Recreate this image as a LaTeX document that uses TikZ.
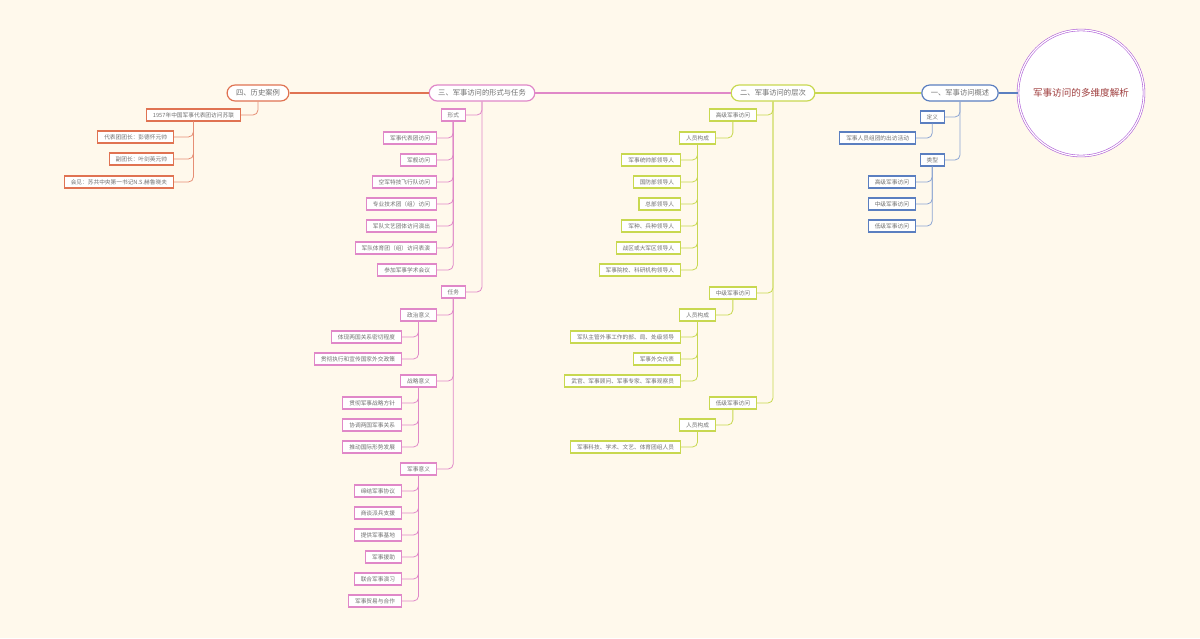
\documentclass[tikz,border=0pt]{standalone}
\usepackage{fontspec}
\setmainfont{Noto Sans CJK SC}
\definecolor{bgc}{HTML}{FFF9EC}
\definecolor{cfour}{HTML}{E07352}
\definecolor{cthree}{HTML}{E088C8}
\definecolor{ctwo}{HTML}{C8D850}
\definecolor{cone}{HTML}{5B7FC0}
\definecolor{crootb}{HTML}{B060D8}
\definecolor{croott}{HTML}{A04040}
\definecolor{txt}{HTML}{707070}

\begin{document}
\begin{tikzpicture}[x=1pt,y=-1pt,
    main/.style={draw,rounded corners=8pt,fill=white,line width=1.2pt,minimum height=16pt,
                 inner xsep=9pt,text=txt,font=\fontsize{7.3}{8}\selectfont},
    box/.style={draw,fill=white,line width=1.1pt,minimum height=12pt,inner xsep=6.5pt,
                inner ysep=1pt,text=txt,font=\fontsize{5.7}{6}\selectfont,anchor=east},
    link/.style={line width=0.8pt,rounded corners=5pt}]
  \fill[bgc] (0,0) rectangle (1200,638);
  \useasboundingbox (0,0) rectangle (1200,638);

  % root and main branches
  \node[circle,draw=crootb,double=white,double distance=1.2pt,line width=0.6pt,fill=white,
        minimum size=126pt,text=croott,font=\fontsize{9.6}{11}\selectfont] (root) at (1081,93) {军事访问的多维度解析};
  \node[main,draw=cone]   (m1) at (960,93) {一、军事访问概述};
  \node[main,draw=ctwo]   (m2) at (773,93) {二、军事访问的层次};
  \node[main,draw=cthree] (m3) at (482,93) {三、军事访问的形式与任务};
  \node[main,draw=cfour]  (m4) at (258,93) {四、历史案例};
  \draw[line width=2.5pt,cone]   (m1) -- (root);
  \draw[line width=2.5pt,ctwo]   (m2) -- (m1);
  \draw[line width=2.5pt,cthree] (m3) -- (m2);
  \draw[line width=2.5pt,cfour]  (m4) -- (m3);

  % one
  \begin{scope}[every node/.style={box,draw=cone}]
    \node (d1) at (945,117) {定义};
    \node (d2) at (945,160) {类型};
    \node (d1a) at (916,138) {军事人员组团的出访活动};
    \node (d2a) at (916,182) {高级军事访问};
    \node (d2b) at (916,204) {中级军事访问};
    \node (d2c) at (916,226) {低级军事访问};
  \end{scope}
  \foreach \p/\c in {m1/d1,m1/d2,d1/d1a,d2/d2a,d2/d2b,d2/d2c}
    \draw[link,cone!70] (\p.south) |- (\c.east);

  % two
  \begin{scope}[every node/.style={box,draw=ctwo}]
    \node (h) at (757,115) {高级军事访问};
    \node (z) at (757,293) {中级军事访问};
    \node (l) at (757,403) {低级军事访问};
    \node (hr) at (716,138) {人员构成};
    \node (zr) at (716,315) {人员构成};
    \node (lr) at (716,425) {人员构成};
    \node (h1) at (681,160) {军事统帅部领导人};
    \node (h2) at (681,182) {国防部领导人};
    \node (h3) at (681,204) {总部领导人};
    \node (h4) at (681,226) {军种、兵种领导人};
    \node (h5) at (681,248) {战区或大军区领导人};
    \node (h6) at (681,270) {军事院校、科研机构领导人};
    \node (z1) at (681,337) {军队主管外事工作的部、局、处级领导};
    \node (z2) at (681,359) {军事外交代表};
    \node (z3) at (681,381) {武官、军事顾问、军事专家、军事观察员};
    \node (l1) at (681,447) {军事科技、学术、文艺、体育团组人员};
  \end{scope}
  \foreach \p/\c in {m2/h,m2/z,m2/l,h/hr,z/zr,l/lr,hr/h1,hr/h2,hr/h3,hr/h4,hr/h5,hr/h6,
                     zr/z1,zr/z2,zr/z3,lr/l1}
    \draw[link,ctwo] (\p.south) |- (\c.east);

  % three
  \begin{scope}[every node/.style={box,draw=cthree}]
    \node (f) at (466,115) {形式};
    \node (r) at (466,292) {任务};
    \node (f1) at (437,138) {军事代表团访问};
    \node (f2) at (437,160) {军舰访问};
    \node (f3) at (437,182) {空军特技飞行队访问};
    \node (f4) at (437,204) {专业技术团（组）访问};
    \node (f5) at (437,226) {军队文艺团体访问演出};
    \node (f6) at (437,248) {军队体育团（组）访问表演};
    \node (f7) at (437,270) {参加军事学术会议};
    \node (rp) at (437,315) {政治意义};
    \node (rs) at (437,381) {战略意义};
    \node (rm) at (437,469) {军事意义};
    \node (p1) at (402,337) {体现两国关系密切程度};
    \node (p2) at (402,359) {贯彻执行和宣传国家外交政策};
    \node (s1) at (402,403) {贯彻军事战略方针};
    \node (s2) at (402,425) {协调两国军事关系};
    \node (s3) at (402,447) {推动国际形势发展};
    \node (k1) at (402,491) {缔结军事协议};
    \node (k2) at (402,513) {商谈派兵支援};
    \node (k3) at (402,535) {提供军事基地};
    \node (k4) at (402,557) {军事援助};
    \node (k5) at (402,579) {联合军事演习};
    \node (k6) at (402,601) {军事贸易与合作};
  \end{scope}
  \foreach \p/\c in {m3/f,m3/r,f/f1,f/f2,f/f3,f/f4,f/f5,f/f6,f/f7,r/rp,r/rs,r/rm,
                     rp/p1,rp/p2,rs/s1,rs/s2,rs/s3,rm/k1,rm/k2,rm/k3,rm/k4,rm/k5,rm/k6}
    \draw[link,cthree] (\p.south) |- (\c.east);

  % four
  \begin{scope}[every node/.style={box,draw=cfour}]
    \node (e) at (241,115) {1957年中国军事代表团访问苏联};
    \node (e1) at (174,137) {代表团团长：彭德怀元帅};
    \node (e2) at (174,159) {副团长：叶剑英元帅};
    \node (e3) at (174,182) {会见：苏共中央第一书记N.S.赫鲁晓夫};
  \end{scope}
  \foreach \p/\c in {m4/e,e/e1,e/e2,e/e3}
    \draw[link,cfour!80] (\p.south) |- (\c.east);
\end{tikzpicture}
\end{document}
